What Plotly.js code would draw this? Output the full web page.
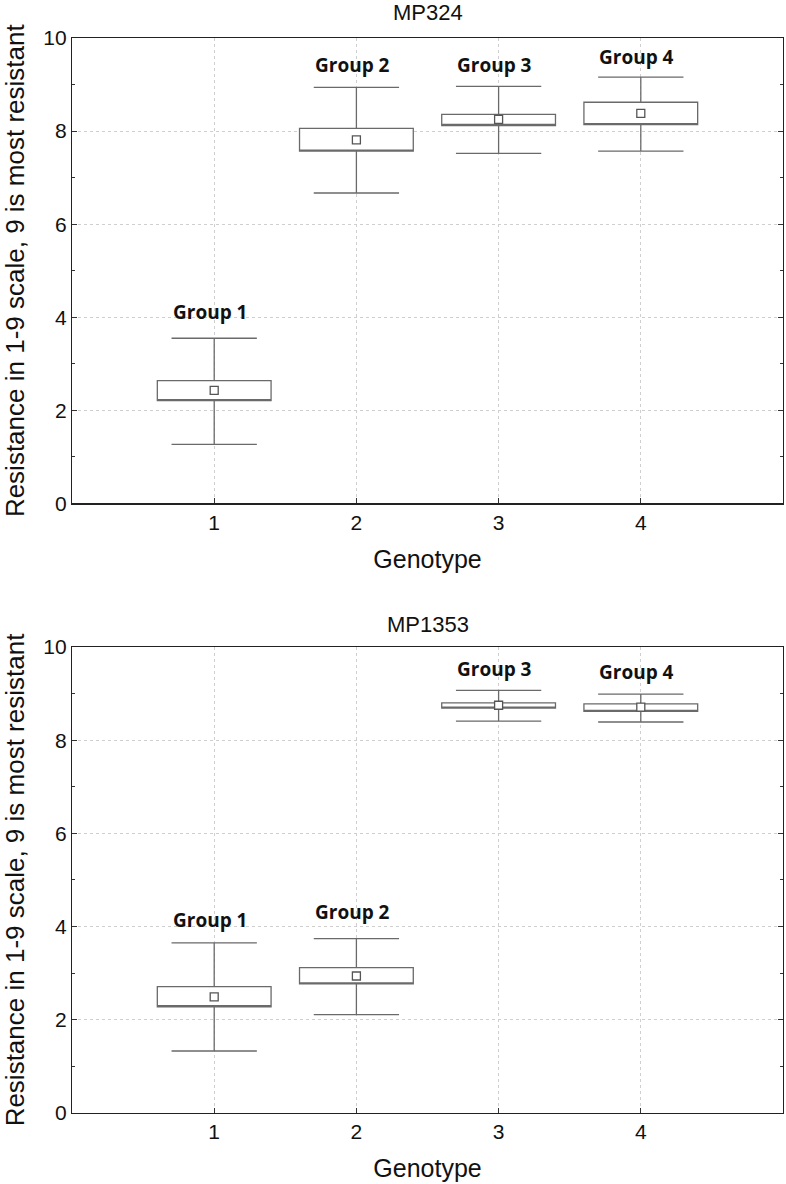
<!DOCTYPE html>
<html>
<head>
<meta charset="utf-8">
<script src="https://cdn.plot.ly/plotly-3.0.1.min.js"></script>
<style>html,body{margin:0;padding:0;background:#fff;}#chart{width:786px;height:1184px;}</style>
</head>
<body>
<div id="chart"></div>
<script>
// Categories
const genotypes = [1, 2, 3, 4];
const groupLabels = ['Group 1', 'Group 2', 'Group 3', 'Group 4'];

// MP324 (top panel)
const mp324Mean      = [2.43, 7.81, 8.25, 8.38];
const mp324BoxLow    = [2.21, 7.57, 8.12, 8.14];
const mp324BoxHigh   = [2.64, 8.06, 8.36, 8.62];
const mp324WhiskLow  = [1.27, 6.67, 7.52, 7.57];
const mp324WhiskHigh = [3.55, 8.94, 8.96, 9.16];
const mp324LabelY    = [4.12, 9.41, 9.43, 9.59];

// MP1353 (bottom panel)
const mp1353Mean      = [2.49, 2.94, 8.75, 8.71];
const mp1353BoxLow    = [2.28, 2.77, 8.69, 8.62];
const mp1353BoxHigh   = [2.71, 3.12, 8.80, 8.78];
const mp1353WhiskLow  = [1.33, 2.11, 8.41, 8.39];
const mp1353WhiskHigh = [3.65, 3.74, 9.07, 8.99];
const mp1353LabelY    = [4.14, 4.31, 9.52, 9.47];

const panelTitles = ['MP324', 'MP1353'];
const yTitle = 'Resistance in 1-9 scale, 9 is most resistant';
const xTitle = 'Genotype';

const lineCol = '#6a6a6a';
const FONT = 'Liberation Sans, Arial, sans-serif';

function boxTrace(lo, hi, wlo, whi, xa, ya) {
  return {
    type: 'box', x: genotypes, q1: lo, median: lo, q3: hi,
    lowerfence: wlo, upperfence: whi,
    width: 0.8, whiskerwidth: 0.75, boxpoints: false,
    fillcolor: '#ffffff', line: {color: lineCol, width: 1.3},
    xaxis: xa, yaxis: ya, showlegend: false, hoverinfo: 'skip'
  };
}
function meanTrace(m, xa, ya) {
  return {
    type: 'scatter', mode: 'markers', x: genotypes, y: m,
    marker: {symbol: 'square', size: 8, color: '#ffffff', line: {color: '#555', width: 1.3}},
    xaxis: xa, yaxis: ya, showlegend: false, hoverinfo: 'skip'
  };
}

const data = [
  boxTrace(mp324BoxLow, mp324BoxHigh, mp324WhiskLow, mp324WhiskHigh, 'x', 'y'),
  meanTrace(mp324Mean, 'x', 'y'),
  boxTrace(mp1353BoxLow, mp1353BoxHigh, mp1353WhiskLow, mp1353WhiskHigh, 'x2', 'y2'),
  meanTrace(mp1353Mean, 'x2', 'y2')
];

function xAxis(anchor) {
  return {
    anchor: anchor, domain: [0, 1], range: [0, 5],
    tickmode: 'array', tickvals: genotypes, ticktext: genotypes.map(String),
    ticks: 'inside', ticklen: 5, tickcolor: '#333',
    showline: true, mirror: true, linecolor: '#222', linewidth: 1.2,
    showgrid: true, gridcolor: '#cfcfcf', griddash: 'dot', gridwidth: 1,
    zeroline: false, tickfont: {family: FONT, size: 21, color: '#111'},
    title: {text: xTitle, font: {family: FONT, size: 25, color: '#111'}, standoff: 17}
  };
}
function yAxis(anchor, dom) {
  return {
    anchor: anchor, domain: dom, range: [0, 10], tick0: 0, dtick: 2,
    ticks: 'inside', ticklen: 5, tickcolor: '#333',
    minor: {dtick: 1, ticks: 'inside', ticklen: 3, tickcolor: '#333', showgrid: false},
    showline: true, mirror: 'ticks', linecolor: '#222', linewidth: 1.2,
    showgrid: true, gridcolor: '#cfcfcf', griddash: 'dot', gridwidth: 1,
    zeroline: false, tickfont: {family: FONT, size: 21, color: '#111'},
    title: {text: yTitle, font: {family: FONT, size: 26, color: '#111'}, standoff: 12}
  };
}

const annotations = [];
function addLabels(ly, xa, ya) {
  genotypes.forEach((g, i) => {
    annotations.push({
      x: g - 0.03, y: ly[i], xref: xa, yref: ya, text: '<b>' + groupLabels[i] + '</b>',
      showarrow: false, font: {family: 'Open Sans, sans-serif', size: 19, color: '#111'},
      xanchor: 'center', yanchor: 'middle'
    });
  });
}
addLabels(mp324LabelY, 'x', 'y');
addLabels(mp1353LabelY, 'x2', 'y2');
annotations.push({
  text: panelTitles[0], xref: 'x domain', yref: 'y domain', x: 0.5, y: 1, yshift: 26,
  xanchor: 'center', yanchor: 'middle', showarrow: false,
  font: {family: FONT, size: 22, color: '#111'}
});
annotations.push({
  text: panelTitles[1], xref: 'x2 domain', yref: 'y2 domain', x: 0.5, y: 1, yshift: 22,
  xanchor: 'center', yanchor: 'middle', showarrow: false,
  font: {family: FONT, size: 22, color: '#111'}
});

const layout = {
  width: 786, height: 1184,
  margin: {l: 72, r: 3, t: 38, b: 71},
  paper_bgcolor: '#ffffff', plot_bgcolor: '#ffffff',
  showlegend: false,
  xaxis: xAxis('y'),
  yaxis: yAxis('x', [0.567, 1]),
  xaxis2: xAxis('y2'),
  yaxis2: yAxis('x2', [0, 0.4335]),
  annotations: annotations
};

Plotly.newPlot('chart', data, layout, {displayModeBar: false, staticPlot: true});
</script>
</body>
</html>
